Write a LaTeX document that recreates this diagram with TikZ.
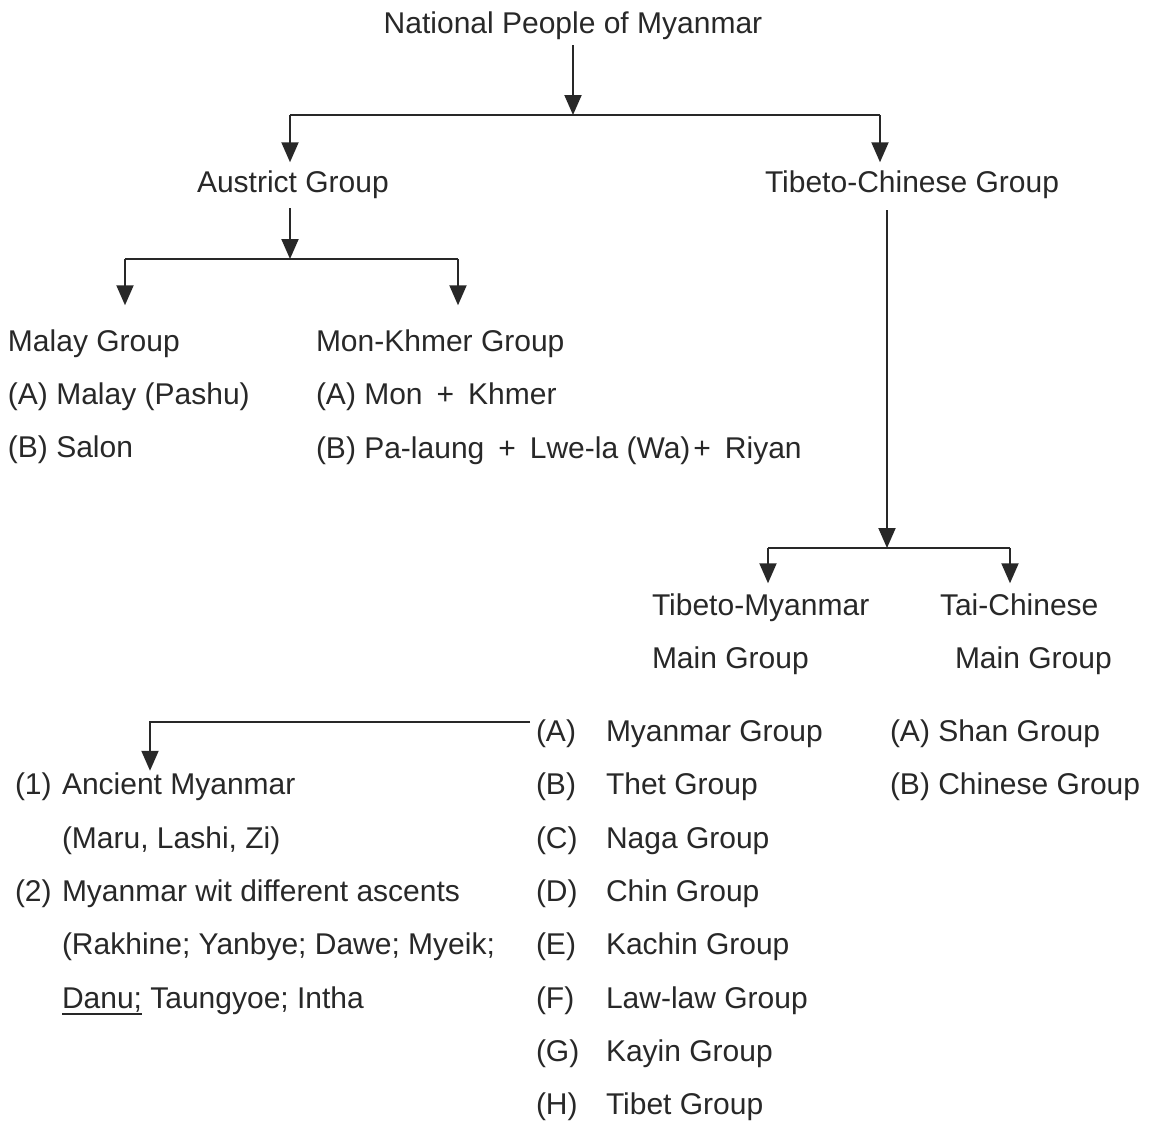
\documentclass[tikz,border=0pt]{standalone}
\usepackage{fontspec}
\setmainfont{Liberation Sans}
\usetikzlibrary{arrows.meta}
\definecolor{ink}{HTML}{282828}
\newcommand\thickul[1]{\leavevmode\setbox0\hbox{#1}\rlap{\rule[-6.5pt]{\wd0}{2.2pt}}\box0\relax}
\begin{document}
\begin{tikzpicture}[x=1pt,y=-1pt,
  txt/.style={inner sep=0pt,outer sep=0pt,anchor=base west,text=ink,font=\fontsize{30pt}{36pt}\selectfont},
  conn/.style={draw=ink,line width=2pt},
  arr/.style={conn,-{Triangle[length=20pt,width=17pt]}}]
\useasboundingbox[fill=white] (0,0) rectangle (1149,1120);

% texts
\node[txt,anchor=base] (title) at (573,33) {National People of Myanmar};
\node[txt] (aus) at (197,192) {Austrict Group};
\node[txt] (tc) at (765,192) {Tibeto-Chinese Group};
\node[txt] (malay) at (8,351) {Malay Group};
\node[txt] (malayA) at (8,404) {(A) Malay (Pashu)};
\node[txt] (malayB) at (8,457) {(B) Salon};
\node[txt] (mk) at (316,351) {Mon-Khmer Group};
\node[txt] (mkA) at (316,404) {(A) Mon\hspace{14pt}+\hspace{14pt}Khmer};
\node[txt] (mkB) at (316,458) {(B) Pa-laung\hspace{14pt}+\hspace{14pt}Lwe-la (Wa)\hspace{3pt}+\hspace{14pt}Riyan};
\node[txt] (tm) at (652,615) {Tibeto-Myanmar};
\node[txt] (tm2) at (652,668) {Main Group};
\node[txt] (tai) at (940,615) {Tai-Chinese};
\node[txt] (tai2) at (955,668) {Main Group};

\foreach \l/\t/\y in {A/Myanmar Group/741.5, B/Thet Group/794.5, C/Naga Group/848.5,
  D/Chin Group/901.5, E/Kachin Group/954.5, F/Law-law Group/1008.5,
  G/Kayin Group/1061.5, H/Tibet Group/1114.5}{
  \node[txt] (lab\l) at (536,\y) {(\l)};
  \node[txt] (grp\l) at (606,\y) {\t};
}
\node[txt] (shan) at (890,741.5) {(A) Shan Group};
\node[txt] (chin) at (890,794.5) {(B) Chinese Group};

\node[txt] (n1) at (15,794.5) {(1)};
\node[txt] (anc) at (62,794.5) {Ancient Myanmar};
\node[txt] (maru) at (62,848.5) {(Maru, Lashi, Zi)};
\node[txt] (n2) at (15,901.5) {(2)};
\node[txt] (asc) at (62,901.5) {Myanmar wit different ascents};
\node[txt] (rak) at (62,954.5) {(Rakhine; Yanbye; Dawe; Myeik;};
\node[txt] (danu) at (62,1008.5) {\thickul{Danu;} Taungyoe; Intha};

% junctions
\coordinate (j1) at (573,115);
\coordinate (j1L) at (290,115);
\coordinate (j1R) at (880,115);
\coordinate (j2) at (290,259);
\coordinate (j2L) at (125,259);
\coordinate (j2R) at (458,259);
\coordinate (j3) at (887,548);
\coordinate (j3L) at (768,548);
\coordinate (j3R) at (1010,548);
\coordinate (k) at (150,722);

% connectors
\draw[arr,shorten <=6pt] (title.south) -- (j1);
\draw[conn] (j1L) -- (j1R);
\draw[arr,shorten >=8pt] (j1L) -- (j1L |- aus.north);
\draw[arr,shorten >=8pt] (j1R) -- (j1R |- tc.north);

\draw[arr,shorten <=10pt] (aus.south -| j2) -- (j2);
\draw[conn] (j2L) -- (j2R);
\draw[arr,shorten >=24pt] (j2L) -- (j2L |- malay.north);
\draw[arr,shorten >=24pt] (j2R) -- (j2R |- mk.north);

\draw[arr,shorten <=12pt] (tc.south -| j3) -- (j3);
\draw[conn] (j3L) -- (j3R);
\draw[arr,shorten >=10pt] (j3L) -- (j3L |- tm.north);
\draw[arr,shorten >=10pt] (j3R) -- (j3R |- tai.north);

\draw[arr,shorten <=6pt,shorten >=2pt] (labA.west |- k) -- (k) -- (k |- anc.north);
\end{tikzpicture}
\end{document}
